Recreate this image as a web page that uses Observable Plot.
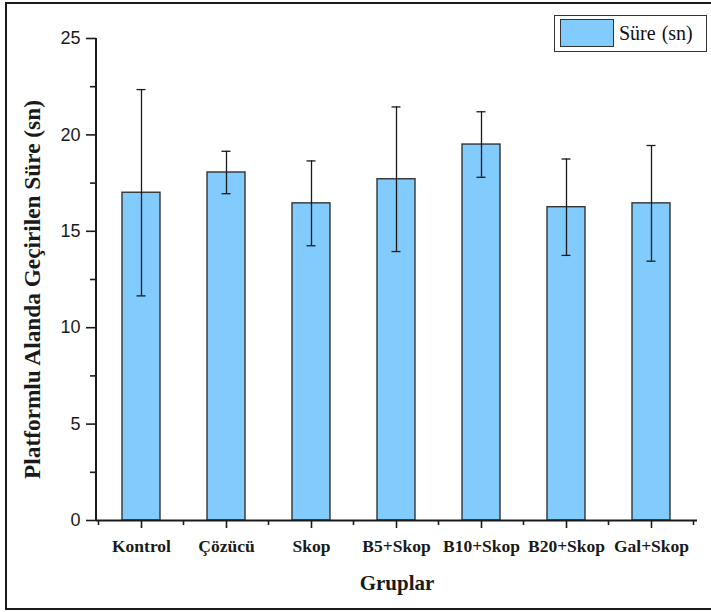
<!DOCTYPE html>
<html><head><meta charset="utf-8">
<script src="https://cdn.jsdelivr.net/npm/d3@7"></script>
<script src="https://cdn.jsdelivr.net/npm/@observablehq/plot@0.6"></script>
<style>
body{margin:0;background:#fff;overflow:hidden}
#wrap{position:relative;width:711px;height:612px;overflow:hidden;background:#fff}
#wrap svg{position:absolute;left:0;top:0}
#border{position:absolute;left:5px;top:2px;width:730px;height:608px;border:2px solid #1a1a1a;box-sizing:border-box;pointer-events:none}
#legend{position:absolute;left:554px;top:15px;width:153px;height:37px;border:1px solid #333;box-sizing:border-box;background:#fff;font-family:"Liberation Serif","Times New Roman",serif;font-size:20px;color:#111}
#legend .sw{position:absolute;left:5px;top:3px;width:54px;height:28px;background:#82CBFD;border:1px solid #333;box-sizing:border-box}
#legend .lb{position:absolute;left:64px;top:5px;line-height:24px;white-space:nowrap;word-spacing:1px}
</style></head>
<body>
<div id="wrap">
  <div id="border"></div>
  <div id="legend"><div class="sw"></div><div class="lb">Süre (sn)</div></div>
</div>
<script>
const groups = ["Kontrol","Çözücü","Skop","B5+Skop","B10+Skop","B20+Skop","Gal+Skop"];
const means  = [17.0, 18.05, 16.45, 17.7, 19.5, 16.25, 16.45];
const errors = [5.35, 1.1, 2.2, 3.75, 1.7, 2.5, 3.0];
const yTicks = [0,5,10,15,20,25];
const yMinorTicks = [2.5,7.5,12.5,17.5,22.5];
const xTitle = "Gruplar";
const yTitle = "Platformlu Alanda Geçirilen Süre (sn)";

const data = groups.map((g,i)=>({group:g, mean:means[i], lo:means[i]-errors[i], hi:means[i]+errors[i]}));
const ink = "#1a1a1a";
const serif = "Liberation Serif, Times New Roman, serif";

const plot = Plot.plot({
  width:711, height:612,
  marginLeft:96, marginRight:14, marginTop:38, marginBottom:92,
  style:{background:"transparent", overflow:"visible", fontFamily:serif, color:ink},
  x:{domain:groups, paddingInner:0.55, paddingOuter:0.275, axis:null},
  y:{domain:[0,25], axis:null},
  marks:[
    Plot.barY(data,{x:"group", y:"mean", fill:"#82CBFD", stroke:"#333", strokeWidth:1.4}),
    Plot.ruleX(data,{x:"group", y1:"lo", y2:"hi", stroke:ink, strokeWidth:1.3}),
    Plot.tickY(data,{x:"group", y:"lo", insetLeft:14.5, insetRight:14.5, stroke:ink, strokeWidth:1.3}),
    Plot.tickY(data,{x:"group", y:"hi", insetLeft:14.5, insetRight:14.5, stroke:ink, strokeWidth:1.3}),
    Plot.axisY({ticks:yTicks, tickSize:10, tickPadding:6, fontSize:18, fontFamily:"Liberation Sans, Arial, sans-serif", strokeWidth:1.6, label:null}),
    Plot.axisY({ticks:yMinorTicks, tickSize:6, tickFormat:()=>"", strokeWidth:1.6, label:null}),
    Plot.axisX({tickSize:8, tickPadding:11, fontSize:17.5, fontWeight:"bold", fontFamily:serif, strokeWidth:1.6, label:null}),
    Plot.ruleY([0],{stroke:ink, strokeWidth:2}),
    Plot.text([xTitle],{frameAnchor:"bottom", textAnchor:"middle", lineAnchor:"middle", dy:63, fontSize:21, fontWeight:"bold", fontFamily:serif, fill:ink}),
    Plot.text([yTitle],{frameAnchor:"left", textAnchor:"middle", lineAnchor:"middle", rotate:-90, dx:-64, dy:10, fontSize:23.3, fontWeight:"bold", fontFamily:serif, fill:ink})
  ]
});

const svg = d3.select(plot);
const xs = plot.scale("x"), ys = plot.scale("y");
const x0 = xs.range[0];
const yBase = ys.apply(0), yTop = ys.apply(25);
// y axis line
svg.append("line").attr("x1",x0).attr("x2",x0).attr("y1",yBase+1).attr("y2",yTop)
  .attr("stroke",ink).attr("stroke-width",2);
// x minor ticks at category boundaries
const gap = (xs.step - xs.bandwidth)/2;
const bounds = groups.map(g => xs.apply(g) - gap).concat([xs.apply(groups[groups.length-1]) + xs.bandwidth + gap]);
svg.append("g").selectAll("line").data(bounds).join("line")
  .attr("x1",d=>d).attr("x2",d=>d).attr("y1",yBase).attr("y2",yBase+5)
  .attr("stroke",ink).attr("stroke-width",1.6);

document.getElementById("wrap").prepend(plot);
</script>
</body></html>
